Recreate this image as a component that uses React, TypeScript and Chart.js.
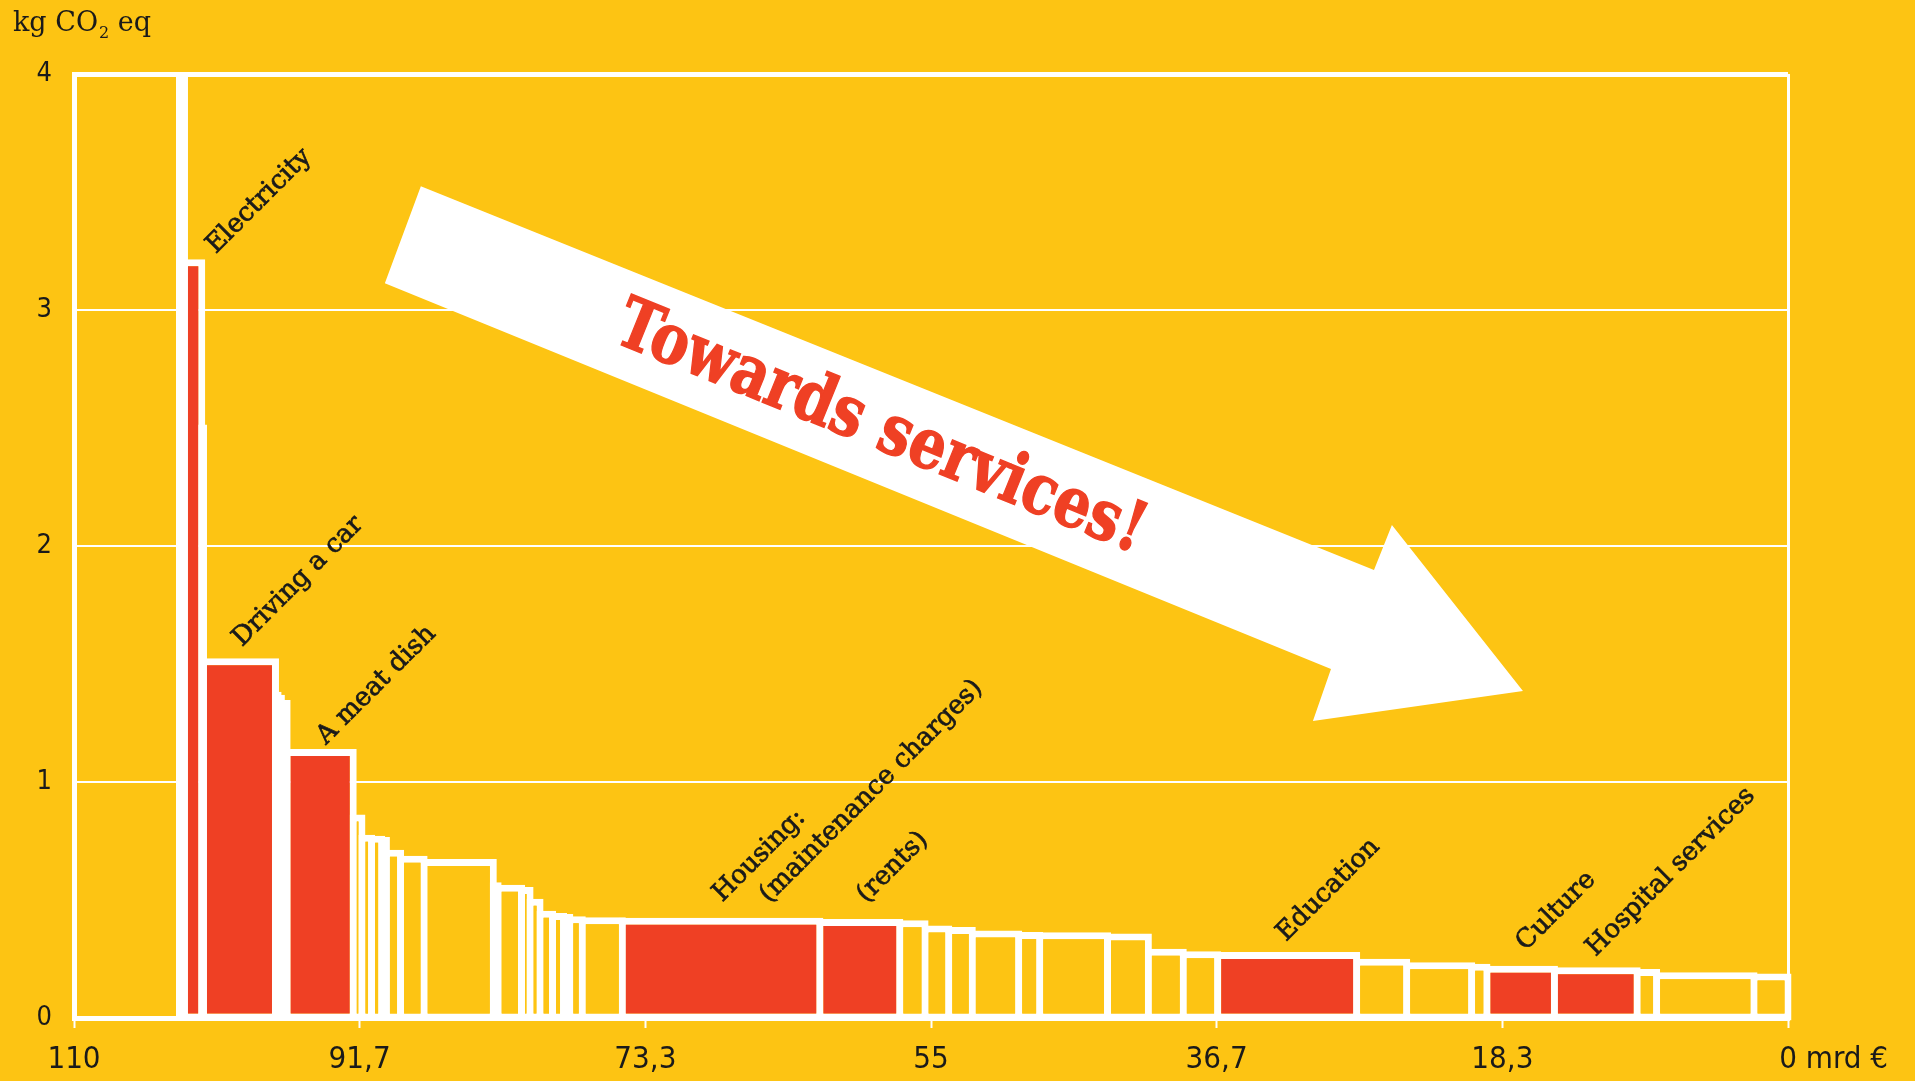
import React, { useEffect, useRef } from 'react';
import { Chart, BarController, registerables } from 'chart.js';

Chart.register(...registerables);

// ---------- colours / styles ----------
const BG = '#FDC413';
const RED = '#EF4024';
const WHITE = '#FFFFFF';
const INK = '#1A1A1A';
const OUTLINE = 7;
const SANS = '"Liberation Sans Narrow", "DejaVu Sans Condensed", Roboto, sans-serif';
const SERIF = '"DejaVu Serif", serif';

// ---------- data (left to right, in order of decreasing carbon intensity) ----------
const ITEM_NAMES: string[] = [
  '', 'Electricity', '', 'Driving a car', '', '', '', 'A meat dish',
  '', '', '', '', '', '', '', '', '', '', '', '', '', '', '', '',
  'Housing: maintenance charges', 'Housing: rents',
  '', '', '', '', '', '', '', '', '',
  'Education', '', '', '', 'Culture', 'Hospital services', '', '', '',
];
// spending, mrd €
const ITEM_WIDTHS: number[] = [
  0.32, 1.11, 0.11, 4.62, 0.17, 0.21, 0.37, 4.24,
  0.56, 0.62, 0.65, 0.30, 0.91, 1.51, 4.44, 0.31, 1.50, 0.55, 0.64, 0.80, 0.71, 0.40, 0.80, 2.57,
  12.68, 5.13,
  1.62, 1.52, 1.51, 2.98, 1.35, 4.35, 2.62, 2.24, 2.21,
  8.92, 3.21, 4.17, 0.98, 4.33, 5.31, 1.25, 6.25, 2.18,
];
// kg CO2 eq per €
const ITEM_VALUES: number[] = [
  4.6, 3.2, 2.5, 1.51, 1.368, 1.355, 1.333, 1.125,
  0.847, 0.762, 0.757, 0.752, 0.698, 0.673, 0.659, 0.56, 0.55, 0.54, 0.49, 0.44, 0.43, 0.426, 0.416, 0.412,
  0.41, 0.405,
  0.399, 0.377, 0.371, 0.356, 0.35, 0.348, 0.343, 0.279, 0.268,
  0.265, 0.236, 0.221, 0.215, 0.207, 0.2, 0.193, 0.179, 0.174,
];
const ITEM_HIGHLIGHT: boolean[] = ITEM_NAMES.map((n) => n !== '');

const X_MIN = 0;
const X_MAX = 110;
const X_TICK_VALUES = [110, 91.667, 73.333, 55, 36.667, 18.333, 0];
const X_TICK_LABELS = ['110', '91,7', '73,3', '55', '36,7', '18,3', '0'];
const X_UNIT = 'mrd €';
const Y_MIN = 0;
const Y_MAX = 4;
const Y_TICK_VALUES = [0, 1, 2, 3, 4];
const Y_TITLE = ['kg CO', '2', ' eq'];

// rotated category labels: text + anchor (data coords of baseline start)
const LABEL_TEXTS = ['Electricity', 'Driving a car', 'A meat dish', 'Housing:', '(maintenance charges)', '(rents)', 'Education', 'Culture', 'Hospital services'];
const LABEL_X = [100.91, 99.22, 93.83, 68.4, 65.39, 59.16, 32.22, 16.84, 12.35];
const LABEL_Y = [3.236, 1.571, 1.156, 0.489, 0.485, 0.485, 0.322, 0.283, 0.259];

// arrow (data coords)
const ARROW_X = [87.74, 26.57, 25.42, 17.01, 30.49, 29.33, 90.05];
const ARROW_Y = [3.524, 1.898, 2.089, 1.386, 1.259, 1.479, 3.113];
const ARROW_TEXT = 'Towards services!';
const ARROW_TEXT_X = 58.26;
const ARROW_TEXT_Y = 2.49;

// ---------- variable-width bar controller ----------
class VarBarController extends (BarController as any) {
  static id = 'varbar';
  static defaults = {};
  static overrides = {};
  _calculateBarIndexPixels(index: number) {
    const raw: any = (this as any).getDataset().data[index];
    const iScale: any = (this as any)._cachedMeta.iScale;
    const a = iScale.getPixelForValue(raw.x0);
    const b = iScale.getPixelForValue(raw.x1);
    const h = OUTLINE / 2;
    const lo = Math.min(a, b) - h;
    const hi = Math.max(a, b) + h;
    return { base: lo, head: hi, center: (lo + hi) / 2, size: hi - lo };
  }
  _calculateBarValuePixels(index: number) {
    const r: any = super._calculateBarValuePixels(index);
    const h = OUTLINE / 2;
    const top = Math.min(r.base, r.head) - h;
    const bottom = Math.max(r.base, r.head) + h;
    return { base: bottom, head: top, size: top - bottom, center: (top + bottom) / 2 };
  }
}
Chart.register(VarBarController as any);

const X_TICK_FONT = 31;
const X_TICK_PAD = 13;
const X_TICK_LEN = 10;

const annotations = {
  id: 'annotations',
  afterDraw(chart: any) {
    const { ctx, scales } = chart;
    const xs = scales.x;
    const ys = scales.y;

    // arrow
    ctx.save();
    ctx.beginPath();
    ARROW_X.forEach((v, i) => {
      const px = xs.getPixelForValue(v);
      const py = ys.getPixelForValue(ARROW_Y[i]);
      if (i === 0) ctx.moveTo(px, py); else ctx.lineTo(px, py);
    });
    ctx.closePath();
    ctx.fillStyle = WHITE;
    ctx.fill();
    ctx.restore();

    // arrow text
    ctx.save();
    ctx.translate(xs.getPixelForValue(ARROW_TEXT_X), ys.getPixelForValue(ARROW_TEXT_Y));
    ctx.rotate((22.1 * Math.PI) / 180);
    ctx.font = `bold 70px ${SERIF}`;
    const w = ctx.measureText(ARROW_TEXT).width;
    ctx.scale(565 / w, 1);
    ctx.fillStyle = RED;
    ctx.strokeStyle = RED;
    ctx.lineWidth = 1.5;
    ctx.textAlign = 'center';
    ctx.textBaseline = 'middle';
    ctx.fillText(ARROW_TEXT, 0, 0);
    ctx.strokeText(ARROW_TEXT, 0, 0);
    ctx.restore();

    // category labels
    ctx.save();
    ctx.fillStyle = INK;
    ctx.strokeStyle = INK;
    ctx.lineWidth = 0.7;
    ctx.font = `26px ${SERIF}`;
    ctx.textAlign = 'left';
    ctx.textBaseline = 'alphabetic';
    LABEL_TEXTS.forEach((t, i) => {
      ctx.save();
      ctx.translate(xs.getPixelForValue(LABEL_X[i]), ys.getPixelForValue(LABEL_Y[i]));
      ctx.rotate(-Math.PI / 4);
      ctx.fillText(t, 0, 0);
      ctx.strokeText(t, 0, 0);
      ctx.restore();
    });
    ctx.restore();

    // y title
    ctx.save();
    ctx.fillStyle = INK;
    ctx.textAlign = 'left';
    ctx.textBaseline = 'alphabetic';
    let tx = chart.chartArea.left - 61;
    const ty = chart.chartArea.top - 43;
    ctx.font = `27px ${SERIF}`;
    ctx.fillText(Y_TITLE[0], tx, ty);
    tx += ctx.measureText(Y_TITLE[0]).width;
    ctx.font = `16px ${SERIF}`;
    ctx.fillText(Y_TITLE[1], tx + 1, ty + 7);
    tx += ctx.measureText(Y_TITLE[1]).width + 1;
    ctx.font = `27px ${SERIF}`;
    ctx.fillText(Y_TITLE[2], tx, ty);
    ctx.restore();

    // unit after the last x tick label
    ctx.save();
    ctx.fillStyle = INK;
    ctx.font = `${X_TICK_FONT}px ${SANS}`;
    ctx.textAlign = 'left';
    ctx.textBaseline = 'middle';
    const zeroW = ctx.measureText('0').width;
    const ux = xs.getPixelForValue(0) + zeroW / 2;
    const uy = xs.top + X_TICK_LEN + X_TICK_PAD + (X_TICK_FONT * 1.2) / 2;
    ctx.fillText(' ' + X_UNIT, ux, uy);
    ctx.restore();
  },
};

export default function App() {
  const ref = useRef<HTMLCanvasElement>(null);
  useEffect(() => {
    const canvas = ref.current;
    if (!canvas) return;
    const n = ITEM_WIDTHS.length;
    const rights: number[] = new Array(n);
    let acc = 0;
    for (let i = n - 1; i >= 0; i--) {
      rights[i] = acc;
      acc += ITEM_WIDTHS[i];
    }
    const points = ITEM_WIDTHS.map((w, i) => {
      const x1 = rights[i];
      const x0 = rights[i] + w;
      return { x: (x0 + x1) / 2, y: ITEM_VALUES[i], x0, x1, name: ITEM_NAMES[i] };
    });
    const colors = ITEM_VALUES.map((v, i) => (v > Y_MAX ? WHITE : ITEM_HIGHLIGHT[i] ? RED : BG));

    const chart = new Chart(canvas, {
      type: 'varbar' as any,
      data: {
        datasets: [
          {
            label: 'kg CO2 eq',
            data: points as any,
            backgroundColor: colors,
            borderColor: WHITE,
            borderWidth: OUTLINE,
            borderSkipped: false,
            inflateAmount: 0,
            clip: { left: 20, right: 20, top: 0, bottom: 20 },
          } as any,
        ],
      },
      options: {
        animation: false,
        responsive: true,
        maintainAspectRatio: false,
        events: [],
        layout: { padding: { top: 74, right: 127, left: 0, bottom: 0 } },
        plugins: { legend: { display: false }, tooltip: { enabled: false } },
        scales: {
          x: {
            type: 'linear',
            reverse: true,
            min: X_MIN,
            max: X_MAX,
            offset: false,
            afterBuildTicks: (axis: any) => {
              axis.ticks = X_TICK_VALUES.map((v) => ({ value: v }));
            },
            afterFit: (axis: any) => {
              axis.height = 63;
            },
            ticks: {
              autoSkip: false,
              maxRotation: 0,
              color: INK,
              padding: X_TICK_PAD,
              font: { family: SANS, size: X_TICK_FONT },
              callback: (_v: any, i: number) => X_TICK_LABELS[i],
            },
            grid: {
              offset: false,
              drawOnChartArea: true,
              color: (c: any) => (c.tick && Math.abs(c.tick.value) < 1e-6 ? WHITE : 'rgba(0,0,0,0)'),
              lineWidth: 3,
              tickColor: WHITE,
              tickWidth: 2,
              tickLength: X_TICK_LEN,
            },
            border: { display: true, color: WHITE, width: 5 },
          } as any,
          y: {
            type: 'linear',
            min: Y_MIN,
            max: Y_MAX,
            afterBuildTicks: (axis: any) => {
              axis.ticks = Y_TICK_VALUES.map((v) => ({ value: v }));
            },
            afterFit: (axis: any) => {
              axis.width = 74;
            },
            ticks: {
              color: INK,
              padding: 22,
              font: { family: SANS, size: 27 },
              callback: (_v: any, i: number) => String(Y_TICK_VALUES[i]),
            },
            grid: {
              drawTicks: false,
              color: (c: any) => (c.tick && c.tick.value === 0 ? 'rgba(0,0,0,0)' : WHITE),
              lineWidth: (c: any) => (c.tick && c.tick.value === Y_MAX ? 5 : 2),
            },
            border: { display: true, color: WHITE, width: 5 },
          } as any,
        },
      },
      plugins: [annotations],
    });
    return () => chart.destroy();
  }, []);

  return (
    <div style={{ position: 'fixed', left: 0, top: 0, width: 1915, height: 1081, background: BG }}>
      <canvas ref={ref} />
    </div>
  );
}
